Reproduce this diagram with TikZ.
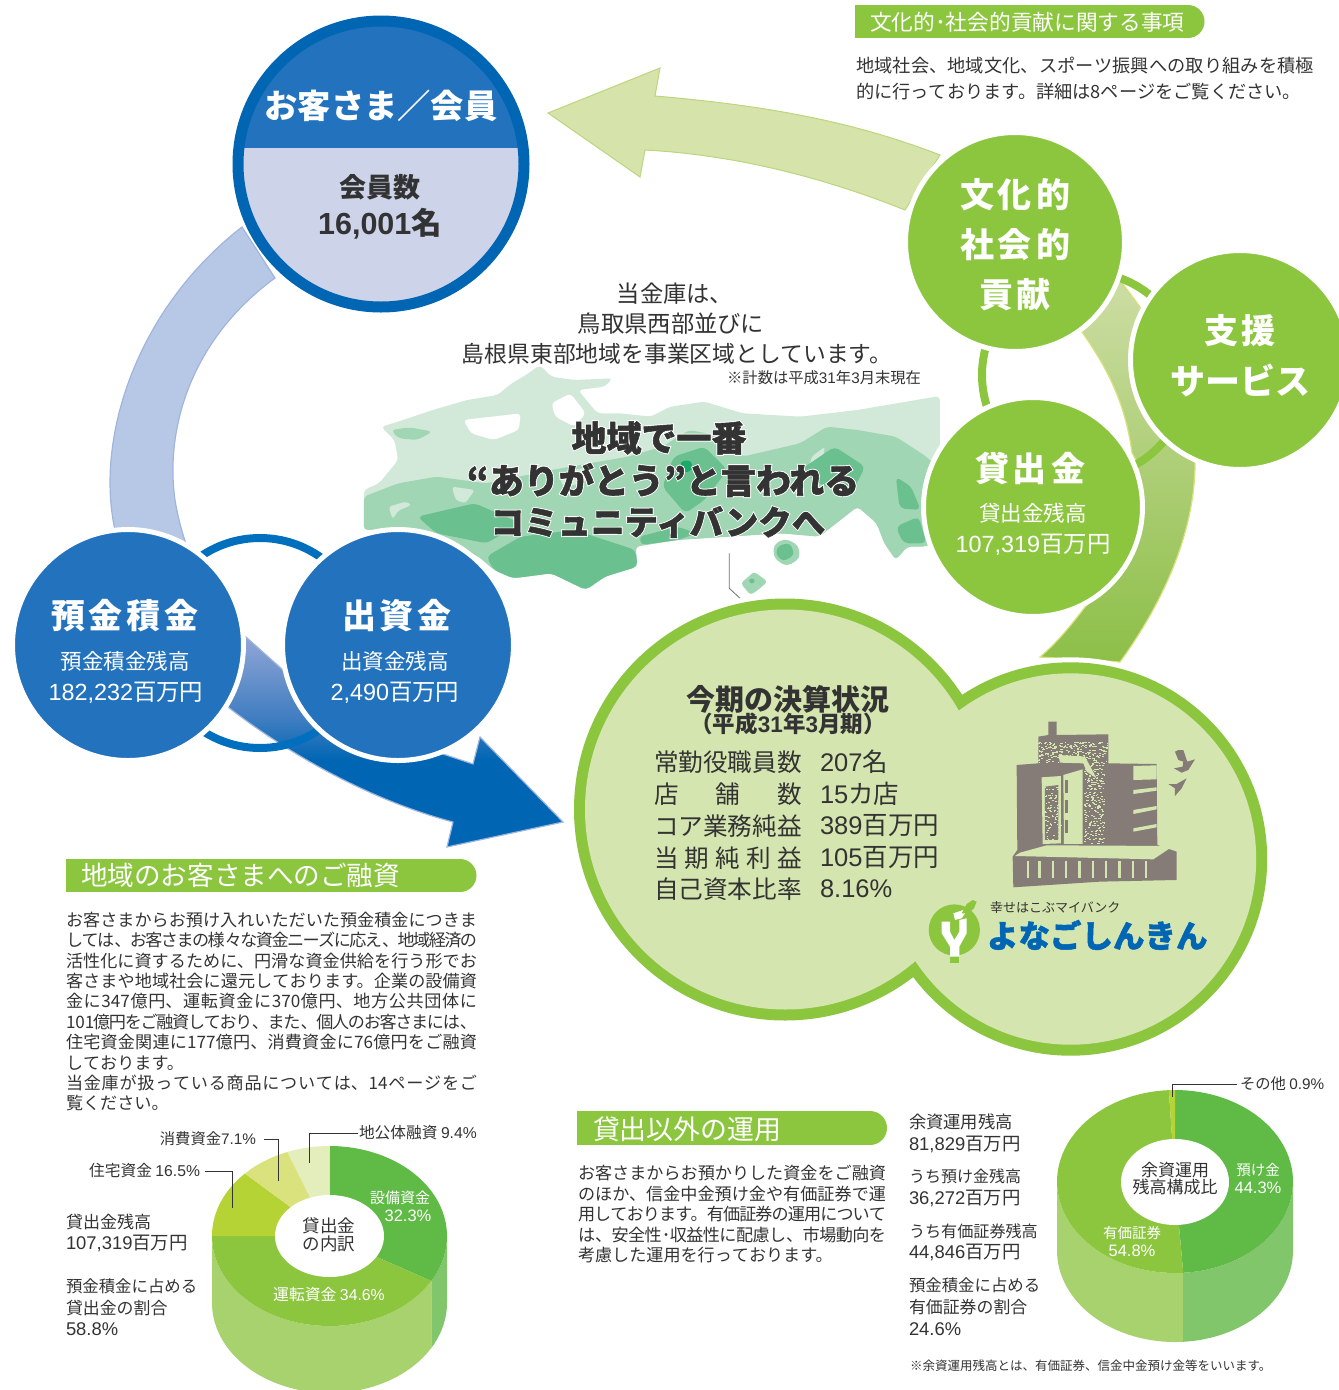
\documentclass[tikz,border=0pt]{standalone}
\usepackage{fontspec}
\usetikzlibrary{shapes.geometric}
\setmainfont{Noto Sans CJK JP}
\setsansfont{Noto Sans CJK JP}
\newfontfamily\jpheavy[BoldFeatures={FakeBold=1.5}]{Noto Sans CJK JP}
\newfontfamily\jphalo[BoldFeatures={FakeBold=7}]{Noto Sans CJK JP}
\newfontfamily\latn{Liberation Sans}
\definecolor{bluemain}{HTML}{2272BD}
\definecolor{bluedark}{HTML}{0066B3}
\definecolor{bluering}{HTML}{0070BE}
\definecolor{bluedeep}{HTML}{3D7CC0}
\definecolor{bluemid}{HTML}{86A0D3}
\definecolor{bluelite}{HTML}{B7C8E6}
\definecolor{blueedge}{HTML}{A0B5DE}
\definecolor{bluepale}{HTML}{CDD3E9}
\definecolor{grn}{HTML}{8CC63F}
\definecolor{grnpale}{HTML}{D5E5B0}
\definecolor{grnarrow}{HTML}{D6E3AA}
\definecolor{grnedge}{HTML}{D9E27C}
\definecolor{grnarrowedge}{HTML}{BBD67C}
\definecolor{grnband}{HTML}{CDDDA4}
\definecolor{grnbandb}{HTML}{8DBF48}
\definecolor{pieA}{HTML}{5FBA46}
\definecolor{pieB}{HTML}{8CC63F}
\definecolor{pieC}{HTML}{B5D334}
\definecolor{pieD}{HTML}{D9E27C}
\definecolor{pieE}{HTML}{E4EDBC}
\definecolor{sideL}{HTML}{A8D26E}
\definecolor{sideR}{HTML}{82C66B}
\definecolor{ink}{HTML}{333333}
\definecolor{mapA}{HTML}{D2E9DA}
\definecolor{mapB}{HTML}{A0D6B3}
\definecolor{mapC}{HTML}{6BC08F}
\definecolor{mapD}{HTML}{1BA86A}
\definecolor{bldg}{HTML}{857C78}
\pgfdeclareverticalshading{blueband}{100bp}{color(0bp)=(bluedark);color(32bp)=(bluedark);color(35.2bp)=(bluedeep);color(41bp)=(bluemid);color(46bp)=(bluelite);color(100bp)=(bluelite)}
\newcommand\F[1]{\fontsize{#1}{#1}\selectfont}
\newcommand\FL[2]{\fontsize{#1}{#2}\selectfont}
\newcommand\Ln[1]{{\latn #1}}
\newcommand\Sp{\kern4pt\relax}
\newcommand\BodyOn{\parfillskip=0pt\relax\tolerance=10000\relax\hbadness=10000\relax\hfuzz=6pt\relax}
\newcommand\LastOn{\parfillskip=0pt plus 1fil\relax}
\newcommand\PieW[6]{\fill[#6] (#1,#2) -- plot[domain=#4:#5,samples=60] ({#1+#3*cos(\x)},{#2-\pieRY*sin(\x)}) -- cycle;}
\newcommand\PieS[6]{\fill[#6] plot[domain=#4:#5,samples=60] ({#1+#3*cos(\x)},{#2-\pieRY*sin(\x)}) -- plot[domain=#5:#4,samples=60] ({#1+#3*cos(\x)},{#2+\pieD-\pieRY*sin(\x)}) -- cycle;}
\tikzset{
 tl/.style={inner sep=0pt,outer sep=0pt,anchor=west,text=ink},
 tc/.style={inner sep=0pt,outer sep=0pt,anchor=center,text=ink,align=center},
 wl/.style={tc,text=white},
 disc/.style={circle,inner sep=0pt,outer sep=0pt,draw=white,line width=5pt},
 leader/.style={draw=ink,line width=1pt},
 bodytext/.style={inner sep=0pt,outer sep=0pt,anchor=north west,text=ink,align=justify},
 barlabel/.style={inner sep=0pt,outer sep=0pt,anchor=west,text=white},
}
\begin{document}
\begin{tikzpicture}[x=1pt,y=-1pt]
\useasboundingbox (0,0) rectangle (1339,1390);
\clip (0,0) rectangle (1339,1390);
\XeTeXlinebreaklocale "ja"
\XeTeXlinebreakskip=0pt plus 3pt minus 2pt

% ---------- map
\begin{scope}[shift={(360,270)},x=0.3827pt,y=-0.3333pt]
\fill[mapA,rounded corners=4pt] (10,660)--(50,640)--(100,570)--(90,510)--(55,470)--(100,455)--(190,420)--(280,390)--(360,375)--(390,345)--(440,310)--(470,285)--(500,320)--(560,330)--(660,325)--(640,350)--(570,360)--(620,430)--(680,430)--(760,440)--(810,410)--(900,395)--(1000,430)--(1150,440)--(1300,420)--(1515,378)--(1515,800)--(1480,830)--(1430,830)--(1400,870)--(1370,820)--(1350,760)--(1300,710)--(1200,800)--(1100,790)--(830,810)--(720,830)--(725,890)--(640,920)--(590,960)--(500,910)--(400,925)--(350,900)--(310,860)--(200,800)--(100,780)--(10,780)--cycle;
\fill[white,rounded corners=4pt] (270,450)--(420,430)--(415,480)--(350,510)--(290,490)--cycle;
\fill[white,rounded corners=4pt] (500,400)--(550,370)--(590,430)--(560,470)--(510,440)--cycle;
\fill[mapB,rounded corners=5pt] (80,480)--(130,472)--(190,485)--(150,510)--(100,505)--cycle;
\fill[mapB,rounded corners=4pt] (10,680)--(100,640)--(200,620)--(330,640)--(500,600)--(700,560)--(790,530)--(860,480)--(950,500)--(1000,560)--(1150,520)--(1220,470)--(1300,480)--(1400,500)--(1480,560)--(1515,600)--(1515,800)--(1480,830)--(1430,830)--(1400,870)--(1370,820)--(1350,760)--(1300,710)--(1200,800)--(1100,790)--(830,810)--(720,830)--(725,890)--(640,920)--(590,960)--(500,910)--(400,925)--(350,900)--(310,860)--(200,800)--(100,780)--(10,780)--cycle;
\fill[mapA,rounded corners=3pt] (75,710)--(120,695)--(135,705)--(100,722)--(85,748)--cycle;
\fill[mapA,rounded corners=3pt] (240,650)--(300,660)--(275,700)--(250,690)--cycle;
\fill[mapA,rounded corners=3pt] (520,610)--(600,590)--(585,640)--(530,650)--cycle;
\fill[mapA,rounded corners=3pt] (1180,560)--(1215,530)--(1205,590)--(1170,610)--cycle;
\fill[mapC,rounded corners=5pt] (330,860)--(420,800)--(560,780)--(720,840)--(725,890)--(640,920)--(590,960)--(500,910)--(400,925)--(350,900)--cycle;
\fill[mapC,rounded corners=5pt] (150,740)--(300,700)--(420,760)--(330,820)--(200,790)--cycle;
\fill[mapC,rounded corners=5pt] (820,560)--(900,530)--(960,600)--(900,690)--(850,730)--(790,650)--cycle;
\fill[mapC,rounded corners=5pt] (1150,600)--(1240,530)--(1320,590)--(1280,680)--(1200,640)--cycle;
\fill[mapC,rounded corners=5pt] (1400,620)--(1440,650)--(1465,720)--(1410,715)--cycle;
\fill[mapC,rounded corners=5pt] (1460,740)--(1480,820)--(1420,820)--(1400,770)--cycle;
\fill[mapC,rounded corners=4pt] (730,800)--(830,770)--(880,790)--(830,810)--(735,825)--cycle;
\fill[mapD,rounded corners=4pt] (835,575)--(865,570)--(870,600)--(845,610)--cycle;
\fill[mapB,rounded corners=5pt] (1110,805)--(1145,825)--(1150,865)--(1115,890)--(1082,865)--(1080,825)--cycle;
\fill[mapC,rounded corners=4pt] (1095,825)--(1125,820)--(1135,855)--(1105,875)--(1085,850)--cycle;
\fill[mapB,rounded corners=3pt] (1030,905)--(1065,935)--(1040,960)--(1020,975)--(995,940)--cycle;
\fill[mapC] (1024,933) circle (7);
\coordinate (leadA) at (965,850);
\coordinate (leadB) at (965,955);
\coordinate (leadC) at (993,985);
\draw[draw=ink!70,line width=.8pt] (leadA)--(leadB)--(leadC);
\end{scope}

% ---------- blue band and arrow
\path[shading=blueband,draw=blueedge,line width=1.2pt]
 (242,227) .. controls (135,310) and (95,440) .. (115,530)
 .. controls (130,610) and (175,665) .. (228,707)
 .. controls (290,755) and (370,800) .. (453,822)
 -- (447,847) -- (563,822) -- (480,737) -- (473,764) -- (443,754)
 .. controls (380,730) and (325,705) .. (283,670)
 -- (246,637)
 .. controls (210,600) and (185,560) .. (175,500)
 .. controls (165,430) and (190,340) .. (275,278) -- cycle;

% ---------- green band and arrow
\path[top color=grnband,bottom color=grnbandb,draw=grnedge,line width=1.2pt]
 (1118,278) .. controls (1160,330) and (1195,390) .. (1195,463)
 .. controls (1195,530) and (1165,600) .. (1120,662)
 -- (1040,657) .. controls (1060,640) and (1075,620) .. (1085,607)
 .. controls (1140,550) and (1150,480) .. (1132,453)
 .. controls (1125,400) and (1105,365) .. (1082,332) -- cycle;
\path[fill=grnarrow,draw=grnarrowedge,line width=1pt]
 (940,155) .. controls (850,120) and (760,105) .. (655,96)
 -- (660,68) -- (548,113) -- (640,177) -- (645,150)
 .. controls (740,155) and (830,180) .. (905,210) -- cycle;

% ---------- rings
\draw[bluering,line width=8pt] (260,643) circle (105pt);
\draw[grn,line width=8pt] (1085,375) circle (103pt);

% ---------- top circle
\begin{scope}
\clip (381,164) circle (145pt);
\fill[bluepale] (230,148) rectangle (532,320);
\fill[bluemain] (230,10) rectangle (532,148);
\end{scope}
\node[circle,draw=bluedark,line width=11pt,minimum size=286pt,inner sep=0pt,outer sep=0pt] (topDisc) at (381,164) {};
\node[wl,font=\bfseries\F{33.3}] (topTitle) at (381,106) {お客さま／会員};
\node[tc,font=\bfseries\F{27}] (topA) at (380,187) {会員数};
\node[tc,font=\bfseries\F{30.5}] (topB) at (380,224) {\Ln{16,001}名};

% ---------- blue discs
\node[disc,fill=bluemain,minimum size=231pt] (discL) at (128,645) {};
\node[disc,fill=bluemain,minimum size=231pt] (discR) at (398,645) {};
\node[wl,font=\bfseries\F{34}] (dlA) at (125,616) {預\Sp 金\Sp 積\Sp 金};
\node[wl,font=\F{21.5}] (dlB) at (125,661) {預金積金残高};
\node[wl,font=\F{23.4}] (dlC) at (126,693) {\Ln{182,232}百万円};
\node[wl,font=\bfseries\F{34}] (drA) at (397,616) {出\Sp 資\Sp 金};
\node[wl,font=\F{21.5}] (drB) at (395,661) {出資金残高};
\node[wl,font=\F{23.4}] (drC) at (395,693) {\Ln{2,490}百万円};

% ---------- green discs
\node[disc,fill=grn,minimum size=219pt] (discK) at (1015,242) {};
\node[disc,fill=grn,minimum size=219pt] (discS) at (1240,360) {};
\node[disc,fill=grn,minimum size=219pt] (discD) at (1033,507) {};
\node[wl,font=\bfseries\F{34}] (kA) at (1015,195) {文\Sp 化\Sp 的};
\node[wl,font=\bfseries\F{34}] (kB) at (1015,245) {社\Sp 会\Sp 的};
\node[wl,font=\bfseries\F{34}] (kC) at (1015,295) {貢\Sp 献};
\node[wl,font=\bfseries\F{34}] (sA) at (1240,331) {支\Sp 援};
\node[wl,font=\bfseries\F{35}] (sB) at (1240,380) {サービス};
\node[wl,font=\bfseries\F{34}] (dA) at (1030,468) {貸\Sp 出\Sp 金};
\node[wl,font=\F{21.5}] (dB) at (1033,513) {貸出金残高};
\node[wl,font=\F{23.4}] (dC) at (1033,545) {\Ln{107,319}百万円};

% ---------- blob
\fill[white] (785,809.5) circle (216pt);
\fill[white] (1070.5,859) circle (201.7pt);
\fill[grn] (785,809.5) circle (211pt);
\fill[grn] (1070.5,859) circle (196.7pt);
\fill[grnpale] (785,809.5) circle (200pt);
\fill[grnpale] (1070.5,859) circle (185.7pt);

% ---------- blob text
\node[tc,font=\bfseries\F{29}] (kessan) at (788,699) {今期の決算状況};
\node[tc,font=\bfseries\F{22.5}] (kessanB) at (788,724) {（平成\Ln{31}年\Ln{3}月期）};
\node[tl,font=\F{24.6}] (r1) at (654,762) {常勤役職員数};
\node[tl,font=\F{24.6}] (r2) at (654,794) {\makebox[148pt][s]{店\hfill 舗\hfill 数}};
\node[tl,font=\F{24.6}] (r3) at (654,826) {コア業務純益};
\node[tl,font=\F{24.6}] (r4) at (654,858) {\makebox[148pt][s]{当\hfill 期\hfill 純\hfill 利\hfill 益}};
\node[tl,font=\F{24.6}] (r5) at (654,889) {自己資本比率};
\node[tl,font=\F{25.5}] (v1) at (820,762) {\Ln{207}名};
\node[tl,font=\F{25.5}] (v2) at (820,794) {\Ln{15}カ店};
\node[tl,font=\F{25.5}] (v3) at (820,826) {\Ln{389}百万円};
\node[tl,font=\F{25.5}] (v4) at (820,858) {\Ln{105}百万円};
\node[tl,font=\F{25.5}] (v5) at (820,889) {\Ln{8.16\%}};

% ---------- building
\begin{scope}[shift={(900,700)},x=0.3333pt,y=-0.3333pt]
\fill[bldg] (445,65)--(470,65)--(470,105)--(625,103)--(625,190)--(770,192)--(772,435)--(830,455)--(830,540)--(600,545)--(340,562)--(338,470)--(352,450)--(350,195)--(415,190)--(415,110)--(445,105)--cycle;
\fill[grnpale] (425,232)--(483,228)--(483,430)--(428,432)--cycle;
\fill[grnpale] (490,225)--(548,208)--(548,432)--(492,432)--cycle;
\fill[grnpale] (700,198)--(770,196)--(770,238)--(700,240)--cycle;
\fill[grnpale] (700,270)--(770,262)--(770,272)--(700,282)--cycle;
\fill[grnpale] (700,330)--(770,318)--(770,328)--(700,342)--cycle;
\fill[grnpale] (700,385)--(770,372)--(770,382)--(700,395)--cycle;
\fill[grnpale] (360,458)--(440,436)--(820,438)--(760,478)--(345,468)--cycle;
\fill[grnpale] (475,165)--(555,170)--(590,235)--(560,215)--(550,190)--(480,188)--cycle;
\fill[bldg] (495,240)--(503,240)--(503,280)--(495,280)--cycle;
\fill[bldg] (495,300)--(503,300)--(503,340)--(495,340)--cycle;
\fill[bldg] (495,360)--(503,360)--(503,400)--(495,400)--cycle;
\fill[bldg] (435,260)--(475,255)--(475,420)--(435,420)--cycle;
\foreach \xx in {380,415,455,495,535,575,615,655,695,735}
  \fill[grnpale] (\xx,482) rectangle (\xx+7,535);
\pgfmathsetseed{11}
\foreach \i in {1,...,260}{\pgfmathsetmacro\px{415+abs(rnd)*207}\pgfmathsetmacro\py{125+abs(rnd)*62}\fill[grnpale] (\px,\py) rectangle ++(5,3);}
\foreach \i in {1,...,240}{\pgfmathsetmacro\px{552+abs(rnd)*60}\pgfmathsetmacro\py{190+abs(rnd)*240}\fill[grnpale] (\px,\py) rectangle ++(5,3);}
\foreach \i in {1,...,90}{\pgfmathsetmacro\px{430+abs(rnd)*50}\pgfmathsetmacro\py{258+abs(rnd)*165}\fill[grnpale] (\px,\py) rectangle ++(5,3);}
\fill[bldg] (825,155)--(835,150)--(850,150)--(862,185)--(885,178)--(865,210)--(845,218)--(822,205)--(848,200)--(850,185)--(835,180)--cycle;
\fill[bldg] (805,252)--(830,252)--(860,235)--(845,265)--(825,288)--(825,265)--cycle;
% logo
\fill[grn] (163,690) circle (25.6pt);
\fill[grn] (150,745) rectangle (178,788);
\fill[white] (125,665)--(150,665)--(150,695)--(163,720)--(178,695)--(178,660)--(200,655)--(200,700)--(178,740)--(178,770)--(150,770)--(150,740)--(125,700)--cycle;
\fill[white] (160,640)--(205,625)--(185,655)--(165,660)--cycle;
\fill[grn] (200,612)--(218,600)--(230,605)--(222,625)--(205,640)--(185,640)--cycle;
\end{scope}
\node[tl,font=\F{13}] (slogan) at (990,908) {幸せはこぶマイバンク};
\node[inner sep=0pt,outer sep=0pt,anchor=west,text=bluedark,font=\jpheavy\bfseries\F{31.5}] (yonago) at (987,935) {よなごしんきん};

% ---------- central text
\node[tc,font=\F{23.3}] (cA) at (675,294) {当金庫は、};
\node[tc,font=\F{23.3}] (cB) at (671,324) {鳥取県西部並びに};
\node[tc,font=\F{22.8}] (cC) at (677,354) {島根県東部地域を事業区域としています。};
\node[inner sep=0pt,outer sep=0pt,anchor=east,text=ink,font=\F{15.3}] (cNote) at (921,378) {※計数は平成\Ln{31}年\Ln{3}月末現在};
\node[tc,text=white,font=\jphalo\bfseries\F{35}] (hA) at (659,438) {地域で一番};
\node[tc,text=white,font=\jphalo\bfseries\F{35}] (hB) at (663,480) {“ありがとう”と言われる};
\node[tc,text=white,font=\jphalo\bfseries\F{33.5}] (hC) at (658,522) {コミュニティバンクへ};
\node[tc,text=ink,font=\jpheavy\bfseries\F{35}] (tA) at (659,438) {地域で一番};
\node[tc,text=ink,font=\jpheavy\bfseries\F{35}] (tB) at (663,480) {“ありがとう”と言われる};
\node[tc,text=ink,font=\jpheavy\bfseries\F{33.5}] (tC) at (658,522) {コミュニティバンクへ};

% ---------- top-right section
\fill[grn] (855,5) rectangle (1188,38);
\fill[grn] (1188,21.5) circle (16.5pt);
\node[barlabel,font=\F{21.7}] (barA) at (870,22) {文化的･社会的貢献に関する事項};
\node[bodytext,text width=458pt,font=\FL{18.2}{25.7}] (bodyA) at (856,57) {\BodyOn
地域社会、地域文化、スポーツ振興への取り組みを積極\par
\LastOn 的に行っております。詳細は8ページをご覧ください。\par};

% ---------- left section
\fill[grn] (66,859) rectangle (460,892);
\fill[grn] (460,875.5) circle (16.5pt);
\node[barlabel,font=\F{26.6}] (barB) at (81,875) {地域のお客さまへのご融資};
\node[bodytext,text width=411pt,font=\FL{17.1}{20.4}] (bodyB) at (66,912) {\BodyOn
お客さまからお預け入れいただいた預金積金につきま\par
しては、お客さまの様々な資金ニーズに応え、地域経済の\par
活性化に資するために、円滑な資金供給を行う形でお\par
客さまや地域社会に還元しております。企業の設備資\par
金に347億円、運転資金に370億円、地方公共団体に\par
101億円をご融資しており、また、個人のお客さまには、\par
住宅資金関連に177億円、消費資金に76億円をご融資\par
{\LastOn しております。\par}
当金庫が扱っている商品については、14ページをご\par
\LastOn 覧ください。\par};

% ---------- lower-middle section
\fill[grn] (577,1111) rectangle (870,1145);
\fill[grn] (870,1128) circle (17pt);
\node[barlabel,font=\F{26.9}] (barC) at (593,1129) {貸出以外の運用};
\node[bodytext,text width=308pt,font=\FL{17.1}{20.6}] (bodyC) at (578,1165) {\BodyOn
お客さまからお預かりした資金をご融資\par
のほか、信金中金預け金や有価証券で運\par
用しております。有価証券の運用について\par
は、安全性･収益性に配慮し、市場動向を\par
\LastOn 考慮した運用を行っております。\par};

% ---------- pie one
\def\pieRY{90}\def\pieD{67}
\PieS{329.5}{1236}{117.5}{-180}{-30}{sideL}
\PieS{329.5}{1236}{117.5}{-30}{0}{sideR}
\PieW{329.5}{1236}{117.5}{-30}{90}{pieA}
\PieW{329.5}{1236}{117.5}{-180}{-30}{pieB}
\PieW{329.5}{1236}{117.5}{136}{180}{pieC}
\PieW{329.5}{1236}{117.5}{111}{136}{pieD}
\PieW{329.5}{1236}{117.5}{90}{111}{pieE}
\node[ellipse,fill=white,minimum width=109pt,minimum height=82pt,inner sep=0pt,outer sep=0pt] (holeA) at (329.5,1236) {};
\node[tc,font=\F{17.5}] (pA) at (329,1235) {貸出金\\の内訳};
\node[wl,font=\F{15}] (pAa) at (400,1198) {設備資金};
\node[wl,font=\F{16.5}] (pAb) at (408,1216) {\Ln{32.3\%}};
\node[wl,font=\F{15.8}] (pAc) at (329,1294) {運転資金 \Ln{34.6\%}};
\coordinate (endJ) at (232,1208);
\coordinate (endS) at (278,1181);
\coordinate (endT) at (309,1163);
\node[inner sep=0pt,outer xsep=5pt,anchor=east,text=ink,font=\F{15.7}] (lJ) at (205,1171) {住宅資金 \Ln{16.5\%}};
\node[inner sep=0pt,outer xsep=8pt,anchor=east,text=ink,font=\F{15.3}] (lS) at (264,1139) {消費資金\Ln{7.1\%}};
\node[inner sep=0pt,outer xsep=1pt,anchor=west,text=ink,font=\F{15.7}] (lT) at (358,1133) {地公体融資 \Ln{9.4\%}};
\draw[leader] (lJ.east) -| (endJ);
\draw[leader] (lS.east) -| (endS);
\draw[leader] (lT.west) -| (endT);
\node[tl,font=\F{17}] (a1) at (66,1222) {貸出金残高};
\node[tl,font=\F{18.4}] (a2) at (66,1243) {\Ln{107,319}百万円};
\node[tl,font=\F{16.4}] (a3) at (66,1286) {預金積金に占める};
\node[tl,font=\F{16.9}] (a4) at (66,1308) {貸出金の割合};
\node[tl,font=\F{18.4}] (a5) at (66,1329) {\Ln{58.8\%}};

% ---------- pie two
\def\pieRY{91.5}\def\pieD{69}
\PieS{1175}{1181.5}{118}{-180}{-86}{sideL}
\PieS{1175}{1181.5}{118}{-86}{0}{sideR}
\PieW{1175}{1181.5}{118}{-86}{90}{pieA}
\PieW{1175}{1181.5}{118}{93}{274}{pieB}
\PieW{1175}{1181.5}{118}{90}{93}{pieC}
\node[ellipse,fill=white,minimum width=108pt,minimum height=86pt,inner sep=0pt,outer sep=0pt] (holeB) at (1175,1182) {};
\node[tc,font=\F{17}] (pB) at (1175,1179) {余資運用\\残高構成比};
\node[wl,font=\F{14.5}] (pBa) at (1258,1170) {預け金};
\node[wl,font=\F{16.5}] (pBb) at (1258,1188) {\Ln{44.3\%}};
\node[wl,font=\F{14.5}] (pBc) at (1132,1233) {有価証券};
\node[wl,font=\F{16.5}] (pBd) at (1132,1251) {\Ln{54.8\%}};
\coordinate (endO) at (1172,1097);
\node[inner sep=0pt,outer xsep=3pt,anchor=west,text=ink,font=\F{15.3}] (lO) at (1237,1084) {その他 \Ln{0.9\%}};
\draw[leader] (lO.west) -| (endO);
\node[tl,font=\F{17.3}] (b1) at (909,1122) {余資運用残高};
\node[tl,font=\F{18.4}] (b2) at (909,1144) {\Ln{81,829}百万円};
\node[tl,font=\F{16}] (b3) at (909,1176) {うち預け金残高};
\node[tl,font=\F{18.4}] (b4) at (909,1198) {\Ln{36,272}百万円};
\node[tl,font=\F{16.1}] (b5) at (909,1231) {うち有価証券残高};
\node[tl,font=\F{18.4}] (b6) at (909,1252) {\Ln{44,846}百万円};
\node[tl,font=\F{16.4}] (b7) at (909,1285) {預金積金に占める};
\node[tl,font=\F{16.9}] (b8) at (909,1307) {有価証券の割合};
\node[tl,font=\F{18.4}] (b9) at (909,1329) {\Ln{24.6\%}};
\node[tl,font=\F{12.5}] (bNote) at (910,1366) {※余資運用残高とは、有価証券、信金中金預け金等をいいます。};
\end{tikzpicture}
\end{document}
